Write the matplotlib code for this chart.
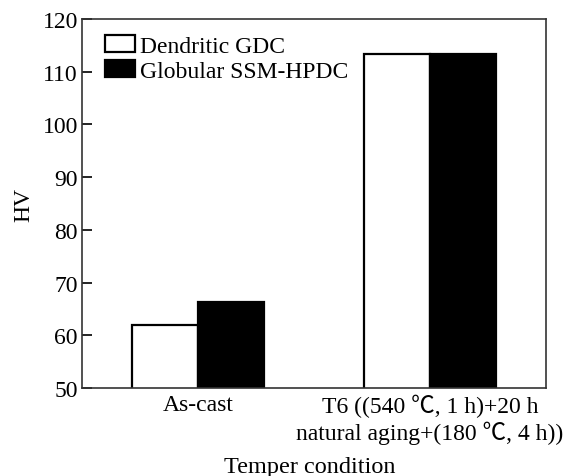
import numpy as np
import matplotlib
matplotlib.use("Agg")
import matplotlib.pyplot as plt

plt.rcParams['font.family'] = ['Liberation Serif', 'Noto Sans CJK SC']

# hardness values
conditions = ['As-cast', 'T6 ((540 \u2103, 1 h)+20 h\nnatural aging+(180 \u2103, 4 h))']
series_names = ['Dendritic GDC', 'Globular SSM-HPDC']
hv_gdc = [62.0, 113.3]
hv_ssm = [66.3, 113.3]
y_ticks = [50, 60, 70, 80, 90, 100, 110, 120]

fig = plt.figure(figsize=(5.72, 4.77), dpi=100)
ax = fig.add_axes([0.1434, 0.1845, 0.8111, 0.7735])

x = np.arange(len(conditions))
w = 0.285
ax.bar(x - w / 2, hv_gdc, width=w, bottom=0, color='white', edgecolor='black',
       linewidth=1.6, label=series_names[0])
ax.bar(x + w / 2, hv_ssm, width=w, bottom=0, color='black', edgecolor='black',
       linewidth=1.6, label=series_names[1])

ax.set_xlim(-0.5, 1.5)
ax.set_ylim(50, 120)
ax.set_yticks(y_ticks)
ax.set_xticks(x)
ax.set_xticklabels(conditions, fontsize=17, linespacing=1.2)
ax.tick_params(axis='x', length=0, pad=4)
ax.tick_params(axis='y', direction='in', length=7, width=1.2, labelsize=17, pad=3)
for sp in ax.spines.values():
    sp.set_linewidth(1.2)
    sp.set_color('#333333')

ax.set_ylabel('HV', fontsize=17, labelpad=6)
ax.set_xlabel('Temper condition', fontsize=17.5)
ax.xaxis.set_label_coords(0.49, -0.183)

ax.legend(loc='upper left', bbox_to_anchor=(0.035, 0.975), frameon=False,
          fontsize=17, handlelength=1.25, handleheight=0.7, handletextpad=0.2,
          labelspacing=0.15, borderpad=0.3, borderaxespad=0.0)

fig.savefig('out.png', dpi=100)
